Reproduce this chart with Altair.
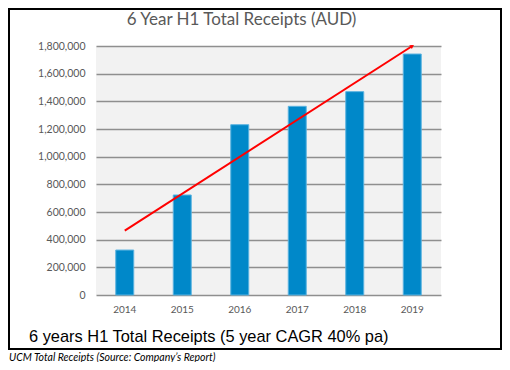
import altair as alt
import pandas as pd

years = ["2014", "2015", "2016", "2017", "2018", "2019"]
receipts = [325000, 723000, 1231000, 1364000, 1470000, 1742000]
trend_years = ["2014", "2019"]
trend_values = [465000, 1800000]
y_ticks = [0, 200000, 400000, 600000, 800000, 1000000, 1200000, 1400000, 1600000, 1800000]

title_text = "6 Year H1 Total Receipts (AUD)"
caption_text = "6 years H1 Total Receipts (5 year CAGR 40% pa)"
source_text = "UCM Total Receipts (Source: Company\u2019s Report)"

bars_df = pd.DataFrame({"year": years, "receipts": receipts})
trend_df = pd.DataFrame({"year": trend_years, "receipts": trend_values})
head_df = trend_df.tail(1)
text_df = pd.DataFrame({"t": [title_text]})

FONT = "Lato"
GREY = "#595959"

x_scale = alt.Scale(domain=years, paddingInner=0.687, paddingOuter=0.3435)
y_scale = alt.Scale(domain=[0, 1800000], nice=False)

x_enc = alt.X("year:N", scale=x_scale, sort=years,
              axis=alt.Axis(title=None, labelAngle=0, ticks=False, domain=False,
                            labelPadding=9, labelFontSize=10, labelColor=GREY,
                            labelFont=FONT, grid=False))
y_enc = alt.Y("receipts:Q", scale=y_scale,
              axis=alt.Axis(title=None, values=y_ticks, format=",.0f", ticks=False,
                            domain=False, labelPadding=11, labelFontSize=10.5,
                            labelColor=GREY, labelFont=FONT, grid=True,
                            labelOverlap=False,
                            gridColor="#8f8f8f", gridWidth=1.3))

bars = alt.Chart(bars_df).mark_bar(color="#0088C9", stroke="#5BB3E0", strokeWidth=1).encode(
    x=x_enc, y=y_enc)

trend = alt.Chart(trend_df).mark_line(color="#FF0000", strokeWidth=2).encode(
    x=x_enc, y=y_enc)

head = alt.Chart(head_df).mark_point(shape="triangle-up", filled=True, color="#FF0000",
                                     size=22, angle=57, opacity=1).encode(
    x=x_enc, y=y_enc)

border = alt.Chart(text_df).mark_rect(fill=None, stroke="black", strokeWidth=2).encode(
    x=alt.value(-87), x2=alt.value(405), y=alt.value(-37), y2=alt.value(303))

title = alt.Chart(text_df).mark_text(font=FONT, fontSize=17, color=GREY, align="center",
                                     baseline="alphabetic").encode(
    x=alt.value(145.5), y=alt.value(-21), text=alt.value(title_text))

caption = alt.Chart(text_df).mark_text(font="Liberation Sans", fontSize=16.4, color="black",
                                       align="left", baseline="alphabetic").encode(
    x=alt.value(-67), y=alt.value(296), text=alt.value(caption_text))

source = alt.Chart(text_df).mark_text(font=FONT, fontSize=10.5, fontStyle="italic",
                                      color="black", align="left",
                                      baseline="alphabetic").encode(
    x=alt.value(-87), y=alt.value(315), text=alt.value(source_text))

chart = alt.layer(bars, trend, head, border, title, caption, source).properties(
    width=345, height=249,
    autosize=alt.AutoSizeParams(type="none"),
    padding={"left": 88, "top": 38, "right": 61, "bottom": 67},
    background="white",
).configure_view(fill="#F2F2F2", stroke=None)

chart.save("out.html", embed_options={"renderer": "svg", "actions": False})
